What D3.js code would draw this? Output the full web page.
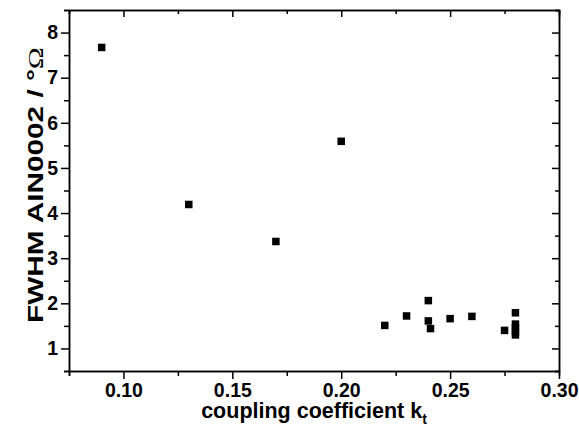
<!DOCTYPE html>
<html>
<head>
<meta charset="utf-8">
<script src="https://cdn.jsdelivr.net/npm/d3@7"></script>
<style>
  body { margin: 0; background: #fff; }
  svg { display: block; font-family: 'Liberation Sans', Arial, sans-serif; }
  .axis path, .axis line { stroke: #000; stroke-width: 1.5; }
  .axis text { font-size: 19.5px; font-weight: bold; fill: #000; }
</style>
</head>
<body>
<svg id="chart" width="579" height="433"></svg>
<script>
// coupling coefficient kt (x) and FWHM (y)
const kt = [0.09, 0.13, 0.17, 0.20, 0.22, 0.23, 0.24, 0.24, 0.241, 0.25, 0.26, 0.275, 0.28, 0.28, 0.28, 0.28, 0.28]
const fwhm = [7.67, 4.19, 3.37, 5.59, 1.51, 1.72, 2.06, 1.61, 1.44, 1.66, 1.71, 1.40, 1.79, 1.54, 1.46, 1.37, 1.30]
const xTicks = [0.10, 0.15, 0.20, 0.25, 0.30]
const yTicks = [1, 2, 3, 4, 5, 6, 7, 8]

const svg = d3.select('#chart')
const margin = {top: 10, right: 20, bottom: 62, left: 69}
const width = 579 - margin.left - margin.right
const height = 433 - margin.top - margin.bottom
const g = svg.append('g').attr('transform', 'translate(' + margin.left + ',' + margin.top + ')')

const x = d3.scaleLinear().domain([0.075, 0.30]).range([0, width])
const y = d3.scaleLinear().domain([0.5, 8.5]).range([height, 0])

const xMinor = d3.range(0.075, 0.301, 0.05)
const yMinor = d3.range(0.5, 8.51, 1)

// minor ticks first (no labels)
g.append('g').attr('class', 'axis').attr('transform', 'translate(0,' + height + ')')
  .call(d3.axisBottom(x).tickValues(xMinor).tickSize(5).tickFormat(''))
g.append('g').attr('class', 'axis')
  .call(d3.axisLeft(y).tickValues(yMinor).tickSize(5).tickFormat(''))
g.append('g').attr('class', 'axis')
  .call(d3.axisBottom(x).tickValues(xMinor).tickSize(4).tickFormat(''))
g.append('g').attr('class', 'axis').attr('transform', 'translate(' + width + ',0)')
  .call(d3.axisLeft(y).tickValues(yMinor).tickSize(4).tickFormat(''))

// bottom axis (outward)
g.append('g').attr('class', 'axis').attr('transform', 'translate(0,' + height + ')')
  .call(d3.axisBottom(x).tickValues(xTicks).tickSize(8).tickSizeOuter(0).tickPadding(4).tickFormat(d3.format('.2f')))

// left axis (outward)
g.append('g').attr('class', 'axis')
  .call(d3.axisLeft(y).tickValues(yTicks).tickSize(8).tickSizeOuter(0).tickPadding(3).tickFormat(d3.format('d')))

// top mirror axis (inward)
g.append('g').attr('class', 'axis')
  .call(d3.axisBottom(x).tickValues(xTicks).tickSize(7).tickSizeOuter(0).tickFormat(''))

// right mirror axis (inward)
g.append('g').attr('class', 'axis').attr('transform', 'translate(' + width + ',0)')
  .call(d3.axisLeft(y).tickValues(yTicks).tickSize(7).tickSizeOuter(0).tickFormat(''))

// points
const s = 7.5
g.append('g')
  .selectAll('rect')
  .data(kt.map((d, i) => [d, fwhm[i]]))
  .enter().append('rect')
  .attr('x', d => x(d[0]) - s / 2)
  .attr('y', d => y(d[1]) - s / 2)
  .attr('width', s)
  .attr('height', s)
  .attr('fill', '#000')

// axis titles
const xt = svg.append('text')
  .attr('x', margin.left + width / 2)
  .attr('y', 418)
  .attr('text-anchor', 'middle')
  .attr('font-size', 21.5)
  .attr('font-weight', 'bold')
  .text('coupling coefficient k')
xt.append('tspan').attr('font-size', 14).attr('dy', 6).text('t')

const yt = svg.append('text')
  .attr('transform', 'translate(43,185) rotate(-90)')
  .attr('text-anchor', 'middle')
  .attr('font-size', 22)
  .attr('font-weight', 'bold')
  .attr('textLength', 276)
  .attr('lengthAdjust', 'spacingAndGlyphs')
  .text('FWHM AIN0002 / °')
yt.append('tspan')
  .attr('font-family', "'Liberation Serif', serif")
  .attr('font-weight', 'normal')
  .text('\u03A9')
</script>
</body>
</html>
